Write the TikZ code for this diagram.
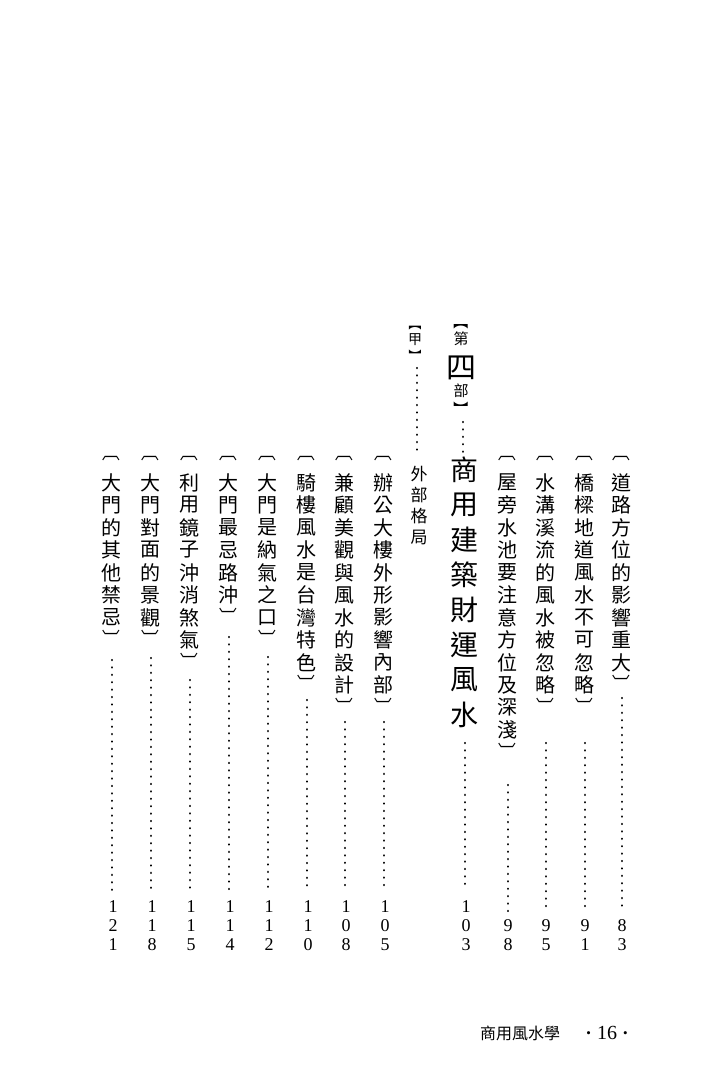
\documentclass[tikz,border=0pt]{standalone}
\usepackage{fontspec}
\newfontfamily\cjk{Noto Sans CJK TC}
\newfontfamily\numfont{Liberation Serif}
\tikzset{
  body/.style={font=\cjk\fontsize{20}{20}\selectfont, inner sep=0pt},
  brk/.style={font=\cjk\fontsize{18}{18}\selectfont, inner sep=0pt, rotate=-90},
  titlech/.style={font=\cjk\fontsize{28}{28}\selectfont, inner sep=0pt},
  smallch/.style={font=\cjk\fontsize{15}{15}\selectfont, inner sep=0pt},
  smallbrk/.style={font=\cjk\fontsize{15}{15}\selectfont, inner sep=0pt, rotate=-90},
  bigch/.style={font=\cjk\fontsize{30}{30}\selectfont, inner sep=0pt},
  jiach/.style={font=\cjk\fontsize{14}{14}\selectfont, inner sep=0pt},
  jiabrk/.style={font=\cjk\fontsize{13}{13}\selectfont, inner sep=0pt, rotate=-90},
  subch/.style={font=\cjk\fontsize{17}{17}\selectfont, inner sep=0pt},
  numch/.style={font=\numfont\fontsize{18}{18}\selectfont, inner sep=0pt},
  footch/.style={font=\cjk\fontsize{16}{16}\selectfont, inner sep=0pt},
  leader/.style={line width=2.5pt, line cap=round, dash pattern=on 0.01pt off 7.4pt},
}
% #1 name, #2 x, #3 number of characters, #4 characters
% the turned brackets put their ink 0.34em off the node centre
\newcommand\vcol[4]{%
  \node[brk] (#1-o) at (#2,{459-6.1}) {〔};
  \foreach \ch [count=\i] in {#4}{\node[body] (#1-\i) at (#2,{482.5+(\i-1)*22.5}) {\ch};}
  \node[brk] (#1-c) at (#2,{482.5+(#3-1)*22.5+15+6.2}) {〕};
}
% #1 name, #2 x, #3 start y, #4 end y
\newcommand\vlead[4]{%
  \coordinate (#1-ls) at (#2,#3);
  \coordinate (#1-le) at (#2,#4);
  \draw[leader] (#1-ls) -- (#1-le);
}
% #1 name, #2 x, #3 first y, #4 digits
\newcommand\vnum[4]{%
  \foreach \d [count=\i] in {#4}{\node[numch] (#1-n\i) at (#2,{#3+(\i-1)*19}) {\d};}
}
\begin{document}
\begin{tikzpicture}[x=1pt,y=-1pt]
\useasboundingbox (0,0) rectangle (727,1074);
\fill[white] (0,0) rectangle (727,1074);

% right-hand columns
\vcol{c1}{621}{9}{道,路,方,位,的,影,響,重,大}
\vlead{c1}{622}{698}{912}
\vnum{c1}{622}{926}{8,3}

\vcol{c2}{584}{10}{橋,樑,地,道,風,水,不,可,忽,略}
\vlead{c2}{585}{743}{912}
\vnum{c2}{585}{926}{9,1}

\vcol{c3}{545}{10}{水,溝,溪,流,的,風,水,被,忽,略}
\vlead{c3}{546}{743}{912}
\vnum{c3}{546}{926}{9,5}

\vcol{c4}{507}{12}{屋,旁,水,池,要,注,意,方,位,及,深,淺}
\vlead{c4}{508}{785}{912}
\vnum{c4}{508}{926}{9,8}

% part heading
\node[smallbrk] (h-o) at (461,{327-5}) {【};
\node[smallch] (h-1) at (461,339) {第};
\node[bigch] (h-2) at (461,368) {四};
\node[smallch] (h-3) at (461,391) {部};
\node[smallbrk] (h-c) at (461,{404+5}) {】};
\vlead{h}{463}{422}{455}
\foreach \ch [count=\i] in {商,用,建,築,財,運,風,水}{\node[titlech] (t-\i) at (464,{470+(\i-1)*35}) {\ch};}
\vlead{t}{465}{743}{890}
\vnum{t}{466}{907}{1,0,3}

% section heading
\node[jiabrk] (j-o) at (415,{328-4.3}) {【};
\node[jiach] (j-1) at (415,340) {甲};
\node[jiabrk] (j-c) at (415,{352+4.4}) {】};
\vlead{j}{417}{368}{455}
\foreach \ch [count=\i] in {外,部,格,局}{\node[subch] (s-\i) at (419,{474+(\i-1)*21}) {\ch};}

% left-hand columns
\vcol{c5}{383}{10}{辦,公,大,樓,外,形,影,響,內,部}
\vlead{c5}{384}{722}{890}
\vnum{c5}{385}{907}{1,0,5}

\vcol{c6}{344}{10}{兼,顧,美,觀,與,風,水,的,設,計}
\vlead{c6}{345}{722}{890}
\vnum{c6}{346}{907}{1,0,8}

\vcol{c7}{306}{9}{騎,樓,風,水,是,台,灣,特,色}
\vlead{c7}{307}{700}{890}
\vnum{c7}{308}{907}{1,1,0}

\vcol{c8}{267}{7}{大,門,是,納,氣,之,口}
\vlead{c8}{268}{657}{890}
\vnum{c8}{269}{907}{1,1,2}

\vcol{c9}{228}{6}{大,門,最,忌,路,沖}
\vlead{c9}{229}{637}{890}
\vnum{c9}{230}{907}{1,1,4}

\vcol{c10}{189}{8}{利,用,鏡,子,沖,消,煞,氣}
\vlead{c10}{190}{680}{890}
\vnum{c10}{191}{907}{1,1,5}

\vcol{c11}{150}{7}{大,門,對,面,的,景,觀}
\vlead{c11}{151}{658}{890}
\vnum{c11}{152}{907}{1,1,8}

\vcol{c12}{111}{7}{大,門,的,其,他,禁,忌}
\vlead{c12}{112}{660}{890}
\vnum{c12}{113}{907}{1,2,1}

% footer
\node[footch] (foot) at (520,1033) {商用風水學};
\node[font=\numfont\fontsize{20}{20}\selectfont, inner sep=0pt] (pg) at (607,1033)
  {\raisebox{2.5pt}{\fontsize{13}{13}\selectfont\textbullet}\hspace{6pt}16\hspace{6pt}\raisebox{2.5pt}{\fontsize{13}{13}\selectfont\textbullet}};
\end{tikzpicture}
\end{document}
